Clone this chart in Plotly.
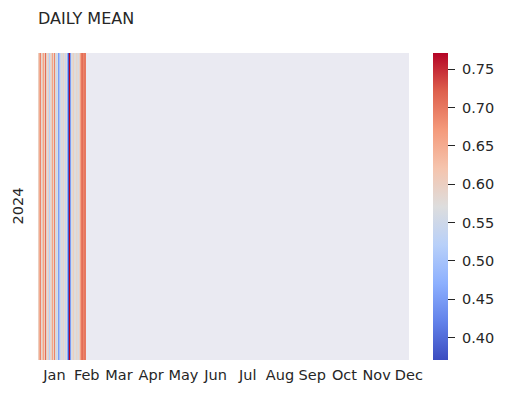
import plotly.graph_objects as go

title = "DAILY MEAN"
year_label = "2024"
months = ["Jan", "Feb", "Mar", "Apr", "May", "Jun", "Jul", "Aug", "Sep", "Oct", "Nov", "Dec"]
n_days = 366
daily_values = [0.60, 0.65, 0.69, 0.58, 0.62, 0.66, 0.60, 0.71, 0.60, 0.57,
                0.60, 0.52, 0.58, 0.60, 0.66, 0.59, 0.69, 0.58, 0.55, 0.57,
                0.45, 0.50, 0.55, 0.58, 0.56, 0.59, 0.57, 0.55, 0.57, 0.47,
                0.38, 0.77, 0.45, 0.56, 0.58, 0.60, 0.57, 0.59, 0.58, 0.56,
                0.60, 0.66, 0.70, 0.71, 0.69, 0.70, 0.70]
cbar_ticks = [0.40, 0.45, 0.50, 0.55, 0.60, 0.65, 0.70, 0.75]
zmin, zmax = 0.371, 0.771

coolwarm = [
    [0.0, "rgb(59,76,192)"], [0.125, "rgb(98,130,234)"], [0.25, "rgb(141,176,254)"],
    [0.375, "rgb(184,208,249)"], [0.5, "rgb(221,221,221)"], [0.625, "rgb(245,196,173)"],
    [0.75, "rgb(244,154,123)"], [0.875, "rgb(222,96,77)"], [1.0, "rgb(180,4,38)"],
]

z = [daily_values + [None] * (n_days - len(daily_values))]
xs = [i + 0.5 for i in range(n_days)]

first_tick, last_tick = 16.3, 365.9
step = (last_tick - first_tick) / (len(months) - 1)
tickvals = [first_tick + k * step for k in range(len(months))]

fig = go.Figure(go.Heatmap(
    z=z, x=xs, y=[0], zmin=zmin, zmax=zmax, colorscale=coolwarm,
    colorbar=dict(
        thickness=15, lenmode="pixels", len=307, x=(433 - 38) / 371, xanchor="left",
        xpad=0, ypad=0, y=0.5, yanchor="middle", outlinewidth=0,
        tickvals=cbar_ticks, ticktext=[f" {v:.2f}" for v in cbar_ticks],
        ticks="outside", ticklen=7, tickcolor="#262626", tickwidth=1.2,
        tickfont=dict(size=14.5, color="#262626", family="DejaVu Sans"),
    ),
))

fig.update_layout(
    width=505, height=399,
    margin=dict(l=38, r=96, t=53, b=39, autoexpand=False),
    paper_bgcolor="white", plot_bgcolor="#EAEAF2",
    font=dict(family="DejaVu Sans", color="#262626"),
    title=dict(text=title, x=38 / 505, xanchor="left", y=1 - 18 / 399, yanchor="middle",
               font=dict(size=16, color="#262626")),
    xaxis=dict(range=[0, n_days], tickvals=tickvals, ticktext=months, showgrid=False,
               zeroline=False, showline=False, ticks="", tickfont=dict(size=14.5),
               ticklabelstandoff=4, automargin=False),
    yaxis=dict(range=[-0.5, 0.5], showticklabels=False, showgrid=False, zeroline=False,
               automargin=False),
    annotations=[dict(text=year_label, x=(17 - 38) / 371, xref="paper", y=0.5, yref="paper",
                      showarrow=False, textangle=-90, font=dict(size=14.5, color="#262626"),
                      xanchor="center", yanchor="middle")],
)

fig.write_html("out.html", config={"displayModeBar": False},
               post_script="document.body.style.margin='0px';")
